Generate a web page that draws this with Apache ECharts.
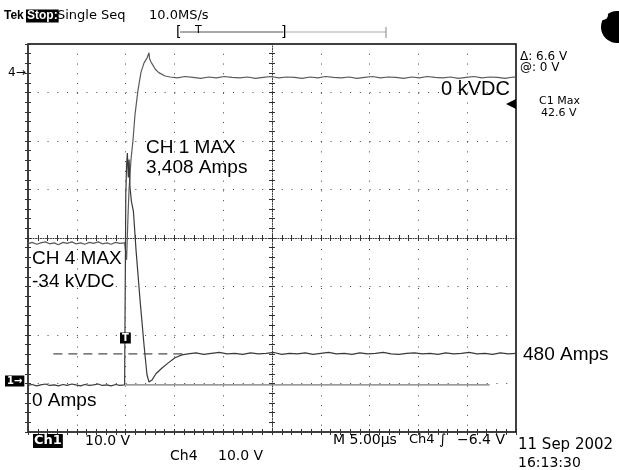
<!DOCTYPE html>
<html>
<head>
<meta charset="utf-8">
<script src="https://cdn.jsdelivr.net/npm/echarts@6/dist/echarts.min.js"></script>
<style>
html, body { margin: 0; padding: 0; background: #fff; }
#scope { width: 619px; height: 470px; }
</style>
</head>
<body>
<div id="scope"></div>
<script>
// time in µs (5 µs/div, 10 div), level in screen divisions (8 div)
var ch1Pre = [[0.0,0.96],[0.4,0.98],[0.9,0.95],[1.3,0.97],[1.8,0.99],[2.2,0.96],[2.7,0.97],[3.1,0.95],[3.6,0.98],[4.0,0.96],[4.5,0.99],[4.9,0.97],[5.4,0.95],[5.8,0.98],[6.3,0.96],[6.7,0.97],[7.2,0.99],[7.6,0.96],[8.1,0.97],[8.5,0.95],[9.0,0.98],[9.4,0.96],[9.9,0.97]]
var ch1Pulse = [[10.0,0.97],[10.02,4.90],[9.92,4.90],[10.08,4.90],[10.05,4.90],[10.1,5.5],[10.18,5.75],[10.28,5.25],[10.36,5.62],[10.45,5.05],[10.6,4.75],[10.8,4.55],[11.07,3.75],[11.48,2.72],[11.89,1.79],[12.19,1.18],[12.40,1.03],[12.7,1.07],[13.11,1.20],[13.73,1.32],[14.34,1.42],[15.06,1.53],[15.78,1.59],[16.4,1.61]]
var ch1Settled = [[17.2,1.63],[18.0,1.60],[18.8,1.62],[19.6,1.64],[20.4,1.61],[21.2,1.62],[22.0,1.60],[22.8,1.63],[23.6,1.61],[24.4,1.62],[25.2,1.64],[26.0,1.60],[26.8,1.62],[27.6,1.61],[28.4,1.63],[29.2,1.60],[30.0,1.62],[30.8,1.64],[31.6,1.61],[32.4,1.62],[33.2,1.60],[34.0,1.63],[34.8,1.61],[35.6,1.62],[36.4,1.64],[37.2,1.61],[38.0,1.60],[38.8,1.62],[39.6,1.63],[40.4,1.61],[41.2,1.62],[42.0,1.60],[42.8,1.63],[43.6,1.61],[44.4,1.62],[45.2,1.64],[46.0,1.61],[46.8,1.62],[47.6,1.60],[48.4,1.63],[49.2,1.61],[50.0,1.62]]

var ch4Pre = [[0.0,3.88],[0.4,3.91],[0.9,3.87],[1.3,3.90],[1.8,3.92],[2.2,3.88],[2.7,3.90],[3.1,3.86],[3.6,3.91],[4.0,3.89],[4.5,3.92],[4.9,3.88],[5.4,3.90],[5.8,3.87],[6.3,3.91],[6.7,3.89],[7.2,3.92],[7.6,3.88],[8.1,3.90],[8.5,3.87],[9.0,3.91],[9.4,3.89],[9.9,3.90]]
var ch4Rise = [[10.0,3.90],[10.1,3.55],[10.25,4.47],[10.35,4.99],[10.55,5.61],[10.76,6.02],[10.96,6.54],[11.27,7.05],[11.58,7.42],[11.89,7.61],[12.19,7.71],[12.35,7.74],[12.40,7.82],[12.45,7.70],[12.6,7.63],[12.75,7.58],[12.91,7.55],[13.05,7.48],[13.2,7.44],[13.4,7.41],[13.6,7.38],[14.04,7.34],[14.55,7.32]]
var ch4Settled = [[15.3,7.30],[16.1,7.33],[16.9,7.31],[17.7,7.29],[18.5,7.32],[19.3,7.30],[20.1,7.33],[20.9,7.31],[21.7,7.30],[22.5,7.32],[23.3,7.29],[24.1,7.31],[24.9,7.33],[25.7,7.30],[26.5,7.32],[27.3,7.31],[28.1,7.29],[28.9,7.32],[29.7,7.30],[30.5,7.33],[31.3,7.31],[32.1,7.30],[32.9,7.32],[33.7,7.29],[34.5,7.31],[35.3,7.33],[36.1,7.30],[36.9,7.32],[37.7,7.31],[38.5,7.29],[39.3,7.32],[40.1,7.30],[40.9,7.33],[41.7,7.31],[42.5,7.30],[43.3,7.32],[44.1,7.29],[44.9,7.31],[45.7,7.33],[46.5,7.30],[47.3,7.32],[48.1,7.31],[48.9,7.29],[49.7,7.32],[50.0,7.31]]

var ch1Ground = [[10.0,0.97],[47.3,0.97]]
var level480 = [[2.6,1.61],[16.3,1.61]]

var chart = echarts.init(document.getElementById('scope'))

var scopeFont = 'DejaVu Sans'
var noteFont = 'Liberation Sans'

function txt(x, y, s, font, opt) {
  opt = opt || {}
  return {
    type: 'text', x: x, y: y, z: 100,
    style: Object.assign({
      text: s, font: font, fill: '#000',
      align: 'left', verticalAlign: 'middle'
    }, opt)
  }
}
function inv(x, y, s, font) {
  return txt(x, y, s, font, { fill: '#fff', backgroundColor: '#000', padding: [1, 2, 0, 2] })
}

var gridDots = { color: '#444', width: 1, type: [1, 8.76] }
var tickStyle = { color: '#333' }

function frameX(pos, opts) {
  return Object.assign({
    type: 'value', min: 0, max: 50, interval: 5, position: pos,
    axisLine: { show: false },
    axisTick: { show: true, inside: true, length: 3, lineStyle: tickStyle },
    minorTick: { show: true, splitNumber: 5, length: 3, lineStyle: tickStyle },
    axisLabel: { show: false },
    splitLine: { show: false }
  }, opts || {})
}
function frameY(pos, opts) {
  return Object.assign({
    type: 'value', min: 0, max: 8, interval: 1, position: pos,
    axisLine: { show: false },
    axisTick: { show: true, inside: true, length: 3, lineStyle: tickStyle },
    minorTick: { show: true, splitNumber: 5, length: 3, lineStyle: tickStyle },
    axisLabel: { show: false },
    splitLine: { show: false }
  }, opts || {})
}

var centerLine = { show: true, onZero: false, lineStyle: { color: '#333', width: 1, type: [1, 1.5] } }

chart.setOption({
  animation: false,
  backgroundColor: '#fff',
  grid: {
    left: 28, right: 103, top: 44, bottom: 38,
    show: true, borderColor: '#000', borderWidth: 1.5, backgroundColor: 'transparent'
  },
  xAxis: [
    frameX('bottom', { splitLine: { show: true, lineStyle: gridDots } }),
    frameX('top'),
    frameX('bottom', { offset: -194, axisLine: centerLine }),
    frameX('bottom', { offset: -194, axisTick: { show: true, inside: false, length: 3, lineStyle: tickStyle } })
  ],
  yAxis: [
    frameY('left', { splitLine: { show: true, lineStyle: gridDots } }),
    frameY('right'),
    frameY('left', { offset: -244, axisLine: centerLine }),
    frameY('left', { offset: -244, axisTick: { show: true, inside: false, length: 3, lineStyle: tickStyle } })
  ],
  series: [
    {
      name: 'Ch1 ground', type: 'line', data: ch1Ground, symbol: 'none',
      lineStyle: { color: '#777', width: 1.2 }, z: 3
    },
    {
      name: '480 A', type: 'line', data: level480, symbol: 'none',
      lineStyle: { color: '#222', width: 1, type: [9, 6] }, z: 3
    },
    {
      name: 'Ch4', type: 'line', data: ch4Pre.concat(ch4Rise, ch4Settled), symbol: 'none',
      lineStyle: { color: '#5a5a5a', width: 1.2 }, z: 4
    },
    {
      name: 'Ch1', type: 'line', data: ch1Pre.concat(ch1Pulse, ch1Settled), symbol: 'none',
      lineStyle: { color: '#3a3a3a', width: 1.2 }, z: 5
    }
  ],
  graphic: [
    // header
    txt(4, 16, 'Tek', 'bold 12px ' + noteFont),
    txt(26, 16, 'Stop:', 'bold 12px ' + noteFont, { fill: '#fff', backgroundColor: '#000', padding: [1, 1, 0, 1] }),
    txt(57, 16, 'Single Seq', '13px ' + scopeFont),
    txt(149, 16, '10.0MS/s', '13px ' + scopeFont),
    { type: 'line', shape: { x1: 180, y1: 32, x2: 283, y2: 32 }, style: { stroke: '#555', lineWidth: 1 } },
    { type: 'line', shape: { x1: 283, y1: 32, x2: 386, y2: 32 }, style: { stroke: '#aaa', lineWidth: 1 } },
    { type: 'line', shape: { x1: 386, y1: 27, x2: 386, y2: 38 }, style: { stroke: '#888', lineWidth: 1 } },
    txt(176, 32, '[', '14px ' + scopeFont),
    txt(281, 32, ']', '14px ' + scopeFont),
    txt(195, 30, 'T', '11px ' + scopeFont),
    { type: 'circle', shape: { cx: 617, cy: 27, r: 16 }, style: { fill: '#000' } },
    { type: 'circle', shape: { cx: 603, cy: 15, r: 5 }, style: { fill: '#fff' } },

    // right readouts
    txt(520, 57, '\u0394: 6.6 V', '12px ' + scopeFont),
    txt(520, 68, '@: 0 V', '12px ' + scopeFont),
    txt(539, 101, 'C1 Max', '11px ' + scopeFont),
    txt(541, 113, '42.6 V', '11px ' + scopeFont),

    // channel markers
    txt(8, 73, '4\u2192', '12px ' + scopeFont),
    inv(5, 381, '1\u2192', 'bold 10px ' + scopeFont),
    inv(120, 338, 'T', 'bold 10px ' + scopeFont),
    { type: 'polygon', shape: { points: [[506, 104], [516, 99], [516, 109]] }, style: { fill: '#000' } },

    // annotations
    txt(441, 89, '0 kVDC', '20px ' + noteFont),
    txt(146, 148, 'CH 1 MAX', '19px ' + noteFont),
    txt(146, 168, '3,408 Amps', '19px ' + noteFont),
    txt(32, 259, 'CH 4 MAX', '19px ' + noteFont),
    txt(32, 282, '-34 kVDC', '19px ' + noteFont),
    txt(32, 401, '0 Amps', '19px ' + noteFont),
    txt(523, 355, '480 Amps', '19px ' + noteFont),

    // footer
    txt(33, 441, 'Ch1', 'bold 13px ' + scopeFont, { fill: '#fff', backgroundColor: '#000', padding: [1, 1, 0, 1] }),
    txt(85, 441, '10.0 V', '14px ' + scopeFont),
    txt(170, 456, 'Ch4', '14px ' + scopeFont),
    txt(218, 456, '10.0 V', '14px ' + scopeFont),
    txt(333, 440, 'M 5.00\u00b5s', '14px ' + scopeFont),
    txt(409, 440, 'Ch4', '13px ' + scopeFont),
    txt(439, 440, '\u222b', '14px ' + scopeFont),
    txt(457, 440, '\u22126.4 V', '14px ' + scopeFont),
    txt(518, 445, '11 Sep 2002', '15px ' + scopeFont),
    txt(518, 463, '16:13:30', '14px ' + scopeFont)
  ]
})
</script>
</body>
</html>
